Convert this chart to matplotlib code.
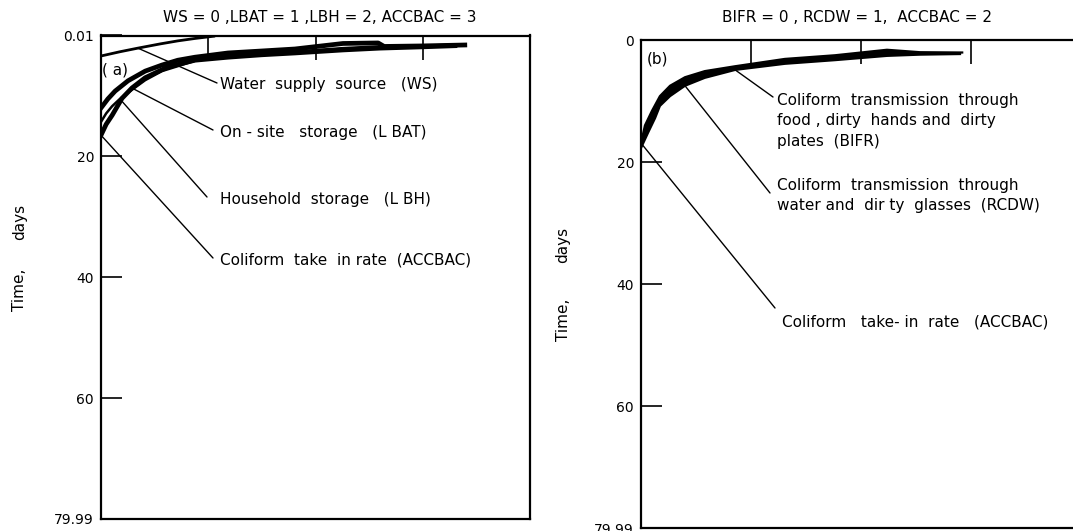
import matplotlib
matplotlib.use('Agg')
import matplotlib.pyplot as plt
import numpy as np

W, H = 1073, 531

# ---------------- Panel (a) data ----------------
title_a = "WS = 0 ,LBAT = 1 ,LBH = 2, ACCBAC = 3"
yticks_a = [0.01, 20, 40, 60, 79.99]
yticklabels_a = ["0.01", "20", "40", "60", "79.99"]

ws_x = [0, 4.4, 8.6, 13.8, 17.9, 21.9, 26.6]
ws_y = [3.4, 2.7, 2.1, 1.4, 0.9, 0.5, 0.1]

lbat_x = [0, 1.6, 3.3, 6.3, 10.3, 14.2, 17.9, 21.9, 29.6, 37.5, 45.2, 56.4, 64.6, 66.0, 74.4, 84.8]
lbat_y = [12.0, 10.5, 9.2, 7.5, 5.9, 4.9, 4.1, 3.6, 2.9, 2.57, 2.24, 1.33, 1.24, 1.82, 1.74, 1.58]

lbh_x = [0, 1.2, 2.6, 4.4, 7.2, 10.3, 14.2, 21.9, 29.6, 37.5, 46.4, 56.4, 65.0, 74.4, 83.7]
lbh_y = [14.3, 12.9, 11.7, 10.5, 9.0, 7.4, 5.9, 4.2, 3.4, 2.9, 2.6, 2.1, 1.8, 1.7, 1.6]

accbac_a_x = [0, 1.2, 2.6, 4.9, 7.2, 10.3, 15.6, 21.9, 29.6, 37.5, 45.2, 56.4, 65.0, 74.4, 82.5]
accbac_a_y = [16.5, 14.7, 13.2, 10.4, 8.7, 7.0, 5.2, 4.1, 3.6, 3.2, 2.9, 2.4, 2.1, 1.9, 1.7]

labels_a = ["Water  supply  source   (WS)",
            "On - site   storage   (L BAT)",
            "Household  storage   (L BH)",
            "Coliform  take  in rate  (ACCBAC)"]

# ---------------- Panel (b) data ----------------
title_b = "BIFR = 0 , RCDW = 1,  ACCBAC = 2"
yticks_b = [0, 20, 40, 60, 79.99]
yticklabels_b = ["0", "20", "40", "60", "79.99"]

bifr_x = [0, 0.9, 2.5, 4.3, 6.6, 10.0, 14.5, 21.4, 32.7, 44.1, 55.9, 63.4, 73.0]
bifr_y = [16.9, 14.0, 11.6, 9.2, 7.5, 6.1, 5.1, 4.3, 3.1, 2.5, 1.6, 2.0, 2.05]

rcdw_x = [0, 1.6, 3.2, 4.3, 6.6, 10.0, 14.5, 21.4, 32.7, 44.1, 55.9, 63.4, 72.5]
rcdw_y = [17.7, 15.2, 12.8, 10.8, 9.2, 7.5, 6.2, 4.9, 3.9, 3.3, 2.6, 2.4, 2.3]

labels_b = ["Coliform  transmission  through\nfood , dirty  hands and  dirty\nplates  (BIFR)",
            "Coliform  transmission  through\nwater and  dir ty  glasses  (RCDW)",
            "Coliform   take- in  rate   (ACCBAC)"]

xticks = [25, 50, 75]

plt.rcParams['font.family'] = ['DejaVu Sans']


def fx(px):
    return px / W


def fy(py):
    return 1 - py / H


fig = plt.figure(figsize=(W / 100, H / 100), dpi=100)

axA = fig.add_axes([fx(101), fy(519), (530 - 101) / W, (519 - 35.5) / H])
axB = fig.add_axes([fx(641), fy(528), 440 / W, (528 - 40) / H])


def style(ax, yt, ytl, ylim):
    ax.set_xlim(0, 100)
    ax.set_ylim(*ylim)
    ax.set_xticks(xticks)
    ax.set_xticklabels([])
    ax.set_yticks(yt)
    ax.set_yticklabels(ytl, fontsize=10)
    ax.tick_params(axis='x', bottom=False, top=True, direction='in',
                   length=17, width=1.2, labelbottom=False, labeltop=False)
    ax.tick_params(axis='y', direction='in', length=15, width=1.2, pad=5)
    for s in ax.spines.values():
        s.set_linewidth(1.6)


style(axA, yticks_a, yticklabels_a, (79.99, 0.01))
style(axB, yticks_b, yticklabels_b, (79.99, 0))

# Panel (a) curves
axA.plot(ws_x, ws_y, color='black', lw=2.0, solid_capstyle='butt')
axA.plot(lbat_x, lbat_y, color='black', lw=3.4)
axA.plot(lbh_x, lbh_y, color='black', lw=1.8)
axA.plot(accbac_a_x, accbac_a_y, color='black', lw=3.4)

# Panel (b) band
axB.fill(np.r_[bifr_x, rcdw_x[::-1]], np.r_[bifr_y, rcdw_y[::-1]], color='black', lw=0)
axB.plot(bifr_x, bifr_y, color='black', lw=1.6)
axB.plot(rcdw_x, rcdw_y, color='black', lw=1.6)


def leader(ax, x, y, px, py):
    ax.annotate('', xy=(x, y), xycoords='data',
                xytext=(fx(px), fy(py)), textcoords='figure fraction',
                arrowprops=dict(arrowstyle='-', lw=1.0, color='black',
                                shrinkA=0, shrinkB=0))


# Leaders panel (a)
leader(axA, ws_x[2], ws_y[2], 217, 83)
leader(axA, accbac_a_x[4], accbac_a_y[4], 213, 130)
leader(axA, lbh_x[3], lbh_y[3], 207, 197)
leader(axA, accbac_a_x[0], accbac_a_y[0], 213, 258)

fs = 11
fig.text(fx(220), fy(85), labels_a[0], fontsize=fs, ha='left', va='center')
fig.text(fx(220), fy(132), labels_a[1], fontsize=fs, ha='left', va='center')
fig.text(fx(220), fy(200), labels_a[2], fontsize=fs, ha='left', va='center')
fig.text(fx(220), fy(260), labels_a[3], fontsize=fs, ha='left', va='center')

# Leaders panel (b)
leader(axB, rcdw_x[7], rcdw_y[7], 773, 97)
leader(axB, rcdw_x[5], rcdw_y[5], 770, 193)
leader(axB, bifr_x[0], bifr_y[0], 775, 308)

fig.text(fx(777), fy(93), labels_b[0], fontsize=fs, ha='left', va='top', linespacing=1.45)
fig.text(fx(777), fy(178), labels_b[1], fontsize=fs, ha='left', va='top', linespacing=1.45)
fig.text(fx(782), fy(322), labels_b[2], fontsize=fs, ha='left', va='center')

# Panel tags
fig.text(fx(102), fy(70), "( a)", fontsize=11, ha='left', va='center')
fig.text(fx(647), fy(59), "(b)", fontsize=11, ha='left', va='center')

# Titles
fig.text(fx(320), fy(18), title_a, fontsize=11, ha='center', va='center')
fig.text(fx(857), fy(17), title_b, fontsize=11, ha='center', va='center')

# Y labels
fig.text(fx(20), fy(222), "days", fontsize=11, rotation=90, ha='center', va='center')
fig.text(fx(20), fy(290), "Time,", fontsize=11, rotation=90, ha='center', va='center')
fig.text(fx(563), fy(245), "days", fontsize=11, rotation=90, ha='center', va='center')
fig.text(fx(563), fy(320), "Time,", fontsize=11, rotation=90, ha='center', va='center')

fig.savefig('out.png', dpi=100, facecolor='white')
